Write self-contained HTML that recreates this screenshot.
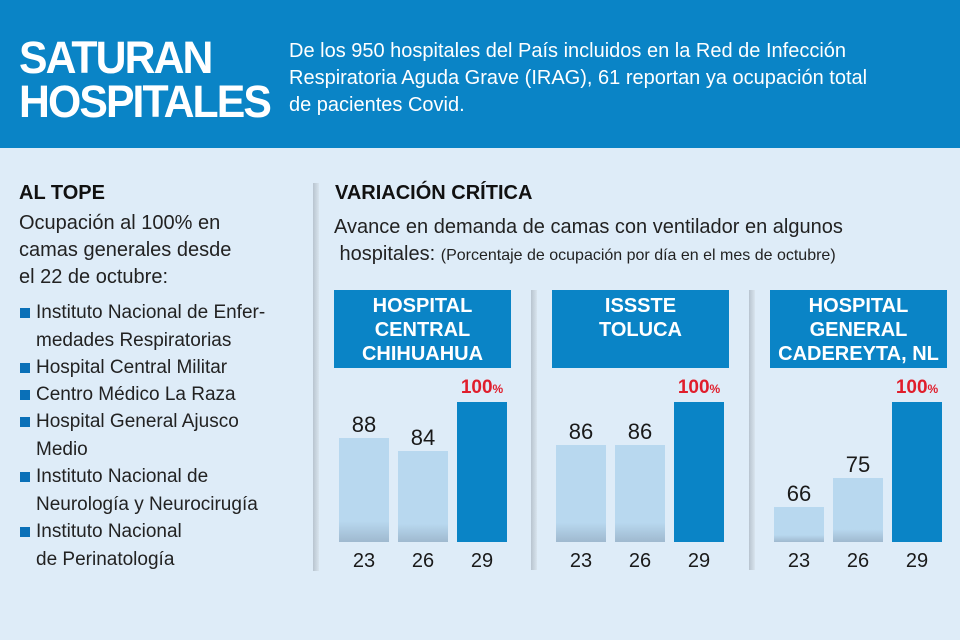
<!DOCTYPE html>
<html><head><meta charset="utf-8"><style>
*{margin:0;padding:0;box-sizing:border-box}
body{width:960px;height:640px;background:#deecf8;font-family:"Liberation Sans",sans-serif;position:relative;overflow:hidden;color:#1a1a1a}
.hdr{position:absolute;left:0;top:0;width:960px;height:148px;background:#0a84c6}
.t{position:absolute;left:19px;top:36px;color:#fff;font-weight:bold;font-size:45px;line-height:44px;letter-spacing:-2px;transform:scaleX(0.95);transform-origin:left}
.sub{position:absolute;left:289px;top:38px;color:#fff;font-size:20px;line-height:27px}
.a{position:absolute}
.h2{font-size:20px;font-weight:bold;color:#111}
.p{font-size:20px;line-height:27px;color:#222}
.li{position:absolute;left:20px;font-size:19px;line-height:27.5px;color:#222}
.sq{position:absolute;left:20px;width:10px;height:10px;background:#0a70b8}
.sep{position:absolute;width:6px;top:183px;height:388px;background:linear-gradient(90deg,#b8c4cf,#d8e4ee)}
.box{position:absolute;top:290px;height:78px;width:177px;background:#0a84c6;color:#fff;font-weight:bold;font-size:20px;line-height:24px;text-align:center;padding-top:4px}
.bar{position:absolute;background:linear-gradient(180deg,#b8d8ef 80%,#9fb9cf)}
.bd{position:absolute;background:#0a84c6}
.v{position:absolute;font-size:22px;width:60px;text-align:center}
.r{position:absolute;color:#e01e2c;font-weight:bold;font-size:19px;width:60px;text-align:center}
.r small{font-size:12px}
.x{position:absolute;top:550px;font-size:20px;width:60px;text-align:center}
</style></head><body>
<div class="hdr"></div>
<div class="t">SATURAN<br>HOSPITALES</div>
<div class="sub">De los 950 hospitales del País incluidos en la Red de Infección<br>Respiratoria Aguda Grave (IRAG), 61 reportan ya ocupación total<br>de pacientes Covid.</div>
<div class="a h2" style="left:19px;top:182px">AL TOPE</div>
<div class="a p" style="left:19px;top:210px">Ocupación al 100% en<br>camas generales desde<br>el 22 de octubre:</div>
<div class="sq" style="top:308px"></div><div class="li" style="left:36px;top:299px">Instituto Nacional de Enfer-<br>medades Respiratorias</div>
<div class="sq" style="top:363px"></div><div class="li" style="left:36px;top:354px">Hospital Central Militar</div>
<div class="sq" style="top:390px"></div><div class="li" style="left:36px;top:381px">Centro Médico La Raza</div>
<div class="sq" style="top:417px"></div><div class="li" style="left:36px;top:408px">Hospital General Ajusco<br>Medio</div>
<div class="sq" style="top:472px"></div><div class="li" style="left:36px;top:463px">Instituto Nacional de<br>Neurología y Neurocirugía</div>
<div class="sq" style="top:527px"></div><div class="li" style="left:36px;top:518px">Instituto Nacional<br>de Perinatología</div>
<div class="sep" style="left:313px"></div>
<div class="sep" style="left:531px;top:290px;height:280px"></div>
<div class="sep" style="left:749px;top:290px;height:280px"></div>
<div class="a h2" style="left:335px;top:182px">VARIACIÓN CRÍTICA</div>
<div class="a p" style="left:334px;top:214px">Avance en demanda de camas con ventilador en algunos<br>&nbsp;hospitales: <span style="font-size:16px">(Porcentaje de ocupación por día en el mes de octubre)</span></div>

<div class="box" style="left:334px">HOSPITAL<br>CENTRAL<br>CHIHUAHUA</div>
<div class="box" style="left:552px">ISSSTE<br>TOLUCA</div>
<div class="box" style="left:770px">HOSPITAL<br>GENERAL<br>CADEREYTA, NL</div>

<div class="bar" style="left:339px;width:50px;top:438px;height:104px"></div>
<div class="bar" style="left:398px;width:50px;top:451px;height:91px"></div>
<div class="bd" style="left:457px;width:50px;top:402px;height:140px"></div>
<div class="v" style="left:334px;top:412px">88</div><div class="v" style="left:393px;top:425px">84</div>
<div class="r" style="left:452px;top:377px">100<small>%</small></div>

<div class="bar" style="left:556px;width:50px;top:445px;height:97px"></div>
<div class="bar" style="left:615px;width:50px;top:445px;height:97px"></div>
<div class="bd" style="left:674px;width:50px;top:402px;height:140px"></div>
<div class="v" style="left:551px;top:419px">86</div><div class="v" style="left:610px;top:419px">86</div>
<div class="r" style="left:669px;top:377px">100<small>%</small></div>

<div class="bar" style="left:774px;width:50px;top:507px;height:35px"></div>
<div class="bar" style="left:833px;width:50px;top:478px;height:64px"></div>
<div class="bd" style="left:892px;width:50px;top:402px;height:140px"></div>
<div class="v" style="left:769px;top:481px">66</div><div class="v" style="left:828px;top:452px">75</div>
<div class="r" style="left:887px;top:377px">100<small>%</small></div>

<div class="x" style="left:334px">23</div><div class="x" style="left:393px">26</div><div class="x" style="left:452px">29</div>
<div class="x" style="left:551px">23</div><div class="x" style="left:610px">26</div><div class="x" style="left:669px">29</div>
<div class="x" style="left:769px">23</div><div class="x" style="left:828px">26</div><div class="x" style="left:887px">29</div>
</body></html>
